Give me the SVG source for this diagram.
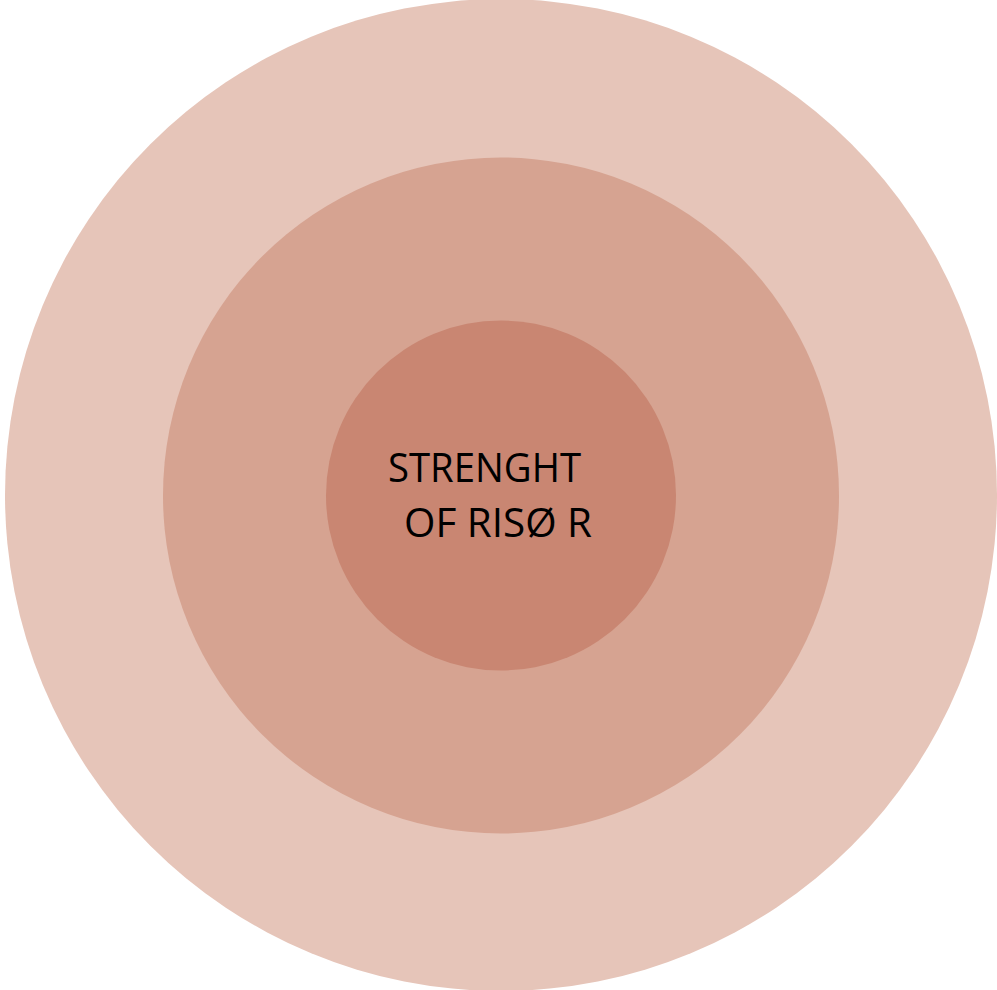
<svg xmlns="http://www.w3.org/2000/svg" width="997" height="990" viewBox="0 0 997 990">
<style>
.t{font-family:"Open Sans","Liberation Sans",sans-serif;font-size:40px;fill:#000;}
</style>
<rect width="997" height="990" fill="#ffffff"/>
<g id="outer"><circle cx="501" cy="495" r="496" fill="#E6C5B9"/></g>
<g id="middle"><circle cx="501" cy="495.5" r="338" fill="#D6A391"/></g>
<g id="inner"><circle cx="501" cy="495.5" r="175" fill="#C98672"/>
<text class="t" x="388" y="482" textLength="193" lengthAdjust="spacingAndGlyphs">STRENGHT</text>
<text class="t" x="404" y="537" textLength="188" lengthAdjust="spacingAndGlyphs">OF RISØ R</text>
</g>
</svg>
